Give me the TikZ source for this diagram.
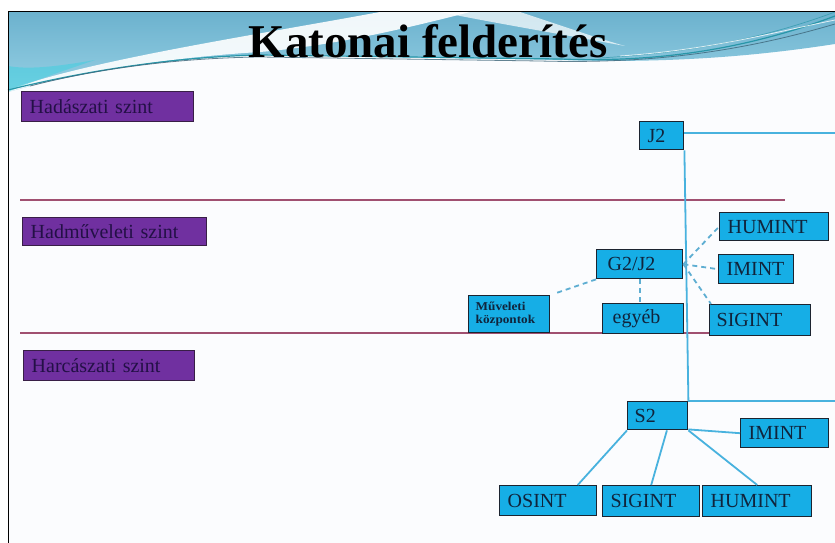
\documentclass[tikz,border=0pt]{standalone}
\usepackage{fontspec}
\setmainfont{Liberation Serif}
\usetikzlibrary{calc}

\definecolor{slidebg}{RGB}{251,252,254}
\definecolor{bandtop}{RGB}{108,178,206}
\definecolor{bandbot}{RGB}{150,208,228}
\definecolor{streak}{RGB}{40,150,168}
\definecolor{streakdark}{RGB}{60,100,120}
\definecolor{glow}{RGB}{50,210,225}
\definecolor{levelfill}{RGB}{112,48,160}
\definecolor{levelline}{RGB}{56,30,70}
\definecolor{leveltext}{RGB}{35,16,70}
\definecolor{boxfill}{RGB}{22,174,230}
\definecolor{boxline}{RGB}{28,36,48}
\definecolor{boxtext}{RGB}{16,36,60}
\definecolor{link}{RGB}{72,178,222}
\definecolor{dashlink}{RGB}{94,174,210}
\definecolor{divider}{RGB}{160,80,112}

\tikzset{
  level/.style={draw=levelline, line width=1.4pt, fill=levelfill, text=leveltext,
    font=\fontsize{20}{20}\selectfont, anchor=north west, inner xsep=8pt, inner ysep=0pt,
    align=left},
  unit/.style={draw=boxline, line width=1.4pt, fill=boxfill, text=boxtext,
    font=\fontsize{20}{20}\selectfont, anchor=north west, inner xsep=8pt, inner ysep=0pt,
    align=left},
  solidlink/.style={draw=link, line width=1.8pt},
  dashlinkst/.style={draw=dashlink, line width=1.8pt, dash pattern=on 5pt off 4pt},
  divline/.style={draw=divider, line width=1.3pt},
}

\begin{document}
\begin{tikzpicture}[x=1pt,y=-1pt]
\useasboundingbox (0,0) rectangle (835,543);
\fill[white] (0,0) rectangle (835,543);
\fill[slidebg] (8,12) rectangle (835,543);

% header band
\shade[top color=bandtop, bottom color=bandbot]
  (8,12) -- (835,12) -- (835,44)
  .. controls (770,54) and (680,64) .. (560,60) -- (260,55)
  .. controls (170,57) and (80,72) .. (8,92) -- cycle;
% white crest rising from the lower left to the top edge
\fill[white, opacity=0.9]
  (8,90) .. controls (90,60) and (250,36) .. (380,12) -- (470,12)
  .. controls (400,30) and (330,46) .. (260,52)
  .. controls (160,58) and (70,74) .. (8,92) -- cycle;
% thin light stripe running down to the right
\fill[white, opacity=0.7]
  (440,12) -- (520,12) .. controls (560,25) and (590,36) .. (625,46)
  .. controls (560,34) and (500,24) .. (440,12) -- cycle;
% cyan glow at the left edge
\fill[glow, opacity=0.45]
  (8,66) .. controls (30,70) and (60,66) .. (95,60)
  .. controls (60,72) and (30,82) .. (8,92) -- cycle;
% streaks
\draw[streak, line width=1.2pt]
  (8,90) .. controls (80,72) and (170,57) .. (260,55) -- (560,59)
  .. controls (660,63) and (750,48) .. (835,16);
\draw[streakdark, line width=0.8pt, opacity=0.8]
  (30,86) .. controls (100,68) and (180,58) .. (260,57) -- (540,61)
  .. controls (650,64) and (740,52) .. (835,24);
\draw[streak, line width=0.7pt, opacity=0.7]
  (600,58) .. controls (700,52) and (770,36) .. (835,12);
\draw[white, line width=0.8pt, opacity=0.8]
  (620,56) .. controls (710,50) and (775,32) .. (835,20);

% slide frame
\draw[black, line width=1pt] (8,543) -- (8,12) -- (835,12);

% title
\node[anchor=base, font=\fontsize{47}{47}\bfseries\selectfont, text=black] (title)
  at (428,58) {Katonai felderítés};

% level dividers
\coordinate (d1a) at (20,200);
\coordinate (d1b) at (785,200);
\coordinate (d2a) at (20,333);
\coordinate (d2b) at (780,333);
\draw[divline] (d1a) -- (d1b);
\draw[divline] (d2a) -- (d2b);

% level labels
\node[level, minimum width=172pt, minimum height=30pt, text width=156pt] (had) at (21,91) {Hadászati szint};
\node[level, minimum width=184pt, minimum height=28pt, text width=168pt] (hadm) at (22,217) {Hadműveleti szint};
\node[level, minimum width=171pt, minimum height=30pt, text width=155pt] (harc) at (23,350) {Harcászati szint};

% units
\node[unit, minimum width=44pt, minimum height=28pt, text width=28pt] (J2) at (639,121) {J2};
\node[unit, minimum width=86pt, minimum height=29pt, inner xsep=11pt, text width=64pt] (G2J2) at (596,249) {G2/J2};
\node[unit, minimum width=109pt, minimum height=28pt, text width=93pt] (hum1) at (719,212) {HUMINT};
\node[unit, minimum width=75pt, minimum height=29pt, text width=59pt] (imi1) at (718,254) {IMINT};
\node[unit, minimum width=81pt, minimum height=37pt, text width=67pt, inner xsep=7pt,
  font=\fontsize{12}{13}\bfseries\addfontfeature{FakeStretch=1.1}\selectfont] (muv) at (468,295) {Műveleti\\központok};
\node[unit, minimum width=81pt, minimum height=30pt, text width=61pt, inner xsep=10pt] (egy) at (602,303) {egyéb};
\node[unit, minimum width=101pt, minimum height=31pt, text width=87pt, inner xsep=7pt] (sig1) at (709,304) {SIGINT};
\node[unit, minimum width=60pt, minimum height=28pt, text width=46pt, inner xsep=7pt] (S2) at (627,401) {S2};
\node[unit, minimum width=88pt, minimum height=29pt, text width=72pt] (imi2) at (740,418) {IMINT};
\node[unit, minimum width=97pt, minimum height=30pt, text width=81pt] (osi) at (499,485) {OSINT};
\node[unit, minimum width=97pt, minimum height=31pt, text width=81pt] (sig2) at (602,485) {SIGINT};
\node[unit, minimum width=109pt, minimum height=31pt, text width=93pt] (hum2) at (702,485) {HUMINT};

% free ends at the right edge
\coordinate (jr) at (835,133);
\coordinate (sr) at (835,401);

% chain of command
\draw[solidlink] (J2.east |- jr) -- (jr);
\draw[solidlink] (J2.south east) -- (S2.north east);
\draw[solidlink] (S2.north east) -- (sr);

% operational level collection (dashed)
\draw[dashlinkst] (G2J2.east) -- (hum1.west);
\draw[dashlinkst] (G2J2.east) -- (imi1.west);
\draw[dashlinkst] (G2J2.east) -- ($(sig1.north west)+(2,0)$);
\draw[dashlinkst] (G2J2.south) -- (G2J2.south |- egy.north);
\draw[dashlinkst, shorten >=5pt] (G2J2.south west) -- (muv.north east);

% tactical level collection
\draw[solidlink] (S2.south west) -- ($(osi.north west)!0.8!(osi.north east)$);
\draw[solidlink] ($(S2.south)!0.3!(S2.south east)$) -- (sig2.north);
\draw[solidlink] (S2.south east) -- (hum2.north);
\draw[solidlink] ($(S2.south east)+(0,-1)$) -- (imi2.west);
\end{tikzpicture}
\end{document}
